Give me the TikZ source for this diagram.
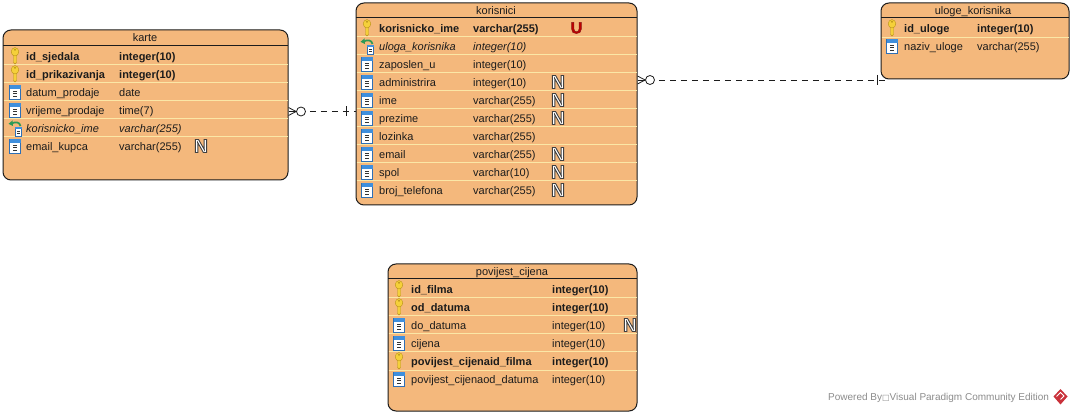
\documentclass[tikz,border=0pt]{standalone}
\usepackage{fontspec}
\setmainfont{Liberation Sans}
\newfontfamily\symfont{DejaVu Sans}
\definecolor{tblfill}{HTML}{F4B87C}
\definecolor{sepcol}{HTML}{FBE7A6}
\definecolor{inkcol}{HTML}{1C1C1C}
\definecolor{keyfill}{HTML}{F5D03A}
\definecolor{keyedge}{HTML}{B8921A}
\definecolor{colblue}{HTML}{3F8FDD}
\definecolor{coledge}{HTML}{2F6FB5}
\definecolor{fkgreen}{HTML}{2E9A55}
\definecolor{logored}{HTML}{C9313A}
\newcommand{\outlined}[3]{\special{pdf:code 2 Tr #2 w #3 RG}#1\special{pdf:code 0 Tr 0 w}}
\tikzset{
  x=1pt,y=-1pt,
  tbl/.style={draw=inkcol,line width=1pt,fill=tblfill,rounded corners=8pt,inner sep=0pt},
  hdr/.style={font=\fontsize{11}{12}\selectfont,text=inkcol,inner sep=0pt,text height=7.5pt,text depth=2pt,yshift=-1.3pt},
  cell/.style={anchor=west,font=\fontsize{11}{12}\selectfont,text=inkcol,inner sep=0pt,text height=7.5pt,text depth=2pt,yshift=-1.3pt},
  plainc/.style={},
  boldc/.style={font=\fontsize{11}{12}\selectfont\bfseries},
  italc/.style={font=\fontsize{11}{12}\selectfont\itshape},
  sepline/.style={draw=sepcol,line width=1pt},
  headline/.style={draw=inkcol,line width=1pt},
  rel/.style={draw=inkcol,line width=.8pt,dash pattern=on 6pt off 5pt},
  relsolid/.style={draw=inkcol,line width=.8pt},
  ringnode/.style={circle,draw=inkcol,line width=.8pt,minimum size=9pt,inner sep=0pt,fill=white},
  nbadge/.style={font=\fontsize{19}{19}\selectfont\bfseries,text=white,inner sep=0pt},
  ubadge/.style={font=\fontsize{16}{16}\selectfont\bfseries,text=red!75!black,inner sep=0pt},
  keyicon/.pic={
    \fill[keyfill,draw=keyedge,line width=.4pt] (-1.5,-1) -- (-1.5,6.5) -- (0,8) -- (1.5,6.5) -- (1.5,-1) -- cycle;
    \fill[keyfill,draw=keyedge,line width=.4pt] (0,-4.2) ellipse (3.8 and 4.2);
    \fill[keyedge] (0,-6.2) ellipse (1.2 and .9);
  },
  colicon/.pic={
    \fill[white,draw=coledge,line width=.6pt] (-5.5,-7) rectangle (5.5,7);
    \fill[colblue] (-5.5,-7) rectangle (5.5,-3);
    \foreach \yy in {-1,1.6,4.2} \draw[black!80,line width=.9pt] (-2,\yy) -- (2,\yy);
  },
  fkicon/.pic={
    \fill[white,draw=coledge,line width=.5pt] (0,-1) rectangle (6.5,8);
    \fill[colblue] (0,-1) rectangle (6.5,1.5);
    \foreach \yy in {3.3,5.6} \draw[black!80,line width=.7pt] (1.8,\yy) -- (4.7,\yy);
    \draw[fkgreen,line width=1.7pt] (5.5,-2) .. controls (5,-6) and (0,-6.5) .. (-3,-4.6);
    \fill[fkgreen] (-6.5,-4.2) -- (-2.5,-7.5) -- (-2,-2) -- cycle;
  }
}
\newcommand{\trow}[6]{%
  \pic at (\ix,#3) {#2};
  \node[cell,#4] (#1n) at (\nx,#3) {#5};
  \node[cell,#4] (#1t) at (\tx,#3) {#6};
}
\newcommand{\nmark}[3]{\node[nbadge] (#1) at (#2,#3) {\outlined{N}{.9}{.25 .25 .25}};}
\begin{document}
\begin{tikzpicture}
\useasboundingbox (0,0) rectangle (1072,414);
\fill[white] (0,0) rectangle (1072,414);

% karte
\node[tbl,minimum width=285pt,minimum height=150pt] (karte) at (145.5,105) {};
\node[hdr] (kartet) at (145,37.5) {karte};
\draw[headline] (3,45.5) -- (288,45.5);
\foreach \yy in {65,83,101,119,137} \draw[sepline] (3.5,\yy) -- (287.5,\yy);
\def\ix{15}\def\nx{26}\def\tx{119}
\trow{ka1}{keyicon}{56}{boldc}{id\_sjedala}{integer(10)}
\trow{ka2}{keyicon}{74}{boldc}{id\_prikazivanja}{integer(10)}
\trow{ka3}{colicon}{92}{plainc}{datum\_prodaje}{date}
\trow{ka4}{colicon}{110}{plainc}{vrijeme\_prodaje}{time(7)}
\trow{ka5}{fkicon}{128}{italc}{korisnicko\_ime}{varchar(255)}
\trow{ka6}{colicon}{146}{plainc}{email\_kupca}{varchar(255)}
\nmark{kaN}{201}{146}

% korisnici
\node[tbl,minimum width=281pt,minimum height=202pt] (kor) at (496.5,104) {};
\node[hdr] (kort) at (496,10.5) {korisnici};
\draw[headline] (356,18) -- (637,18);
\foreach \yy in {37,55,73,91,109,127,145,163,181} \draw[sepline] (356.5,\yy) -- (636.5,\yy);
\def\ix{367}\def\nx{379}\def\tx{473}
\trow{ko1}{keyicon}{28}{boldc}{korisnicko\_ime}{varchar(255)}
\trow{ko2}{fkicon}{46}{italc}{uloga\_korisnika}{integer(10)}
\trow{ko3}{colicon}{64}{plainc}{zaposlen\_u}{integer(10)}
\trow{ko4}{colicon}{82}{plainc}{administrira}{integer(10)}
\trow{ko5}{colicon}{100}{plainc}{ime}{varchar(255)}
\trow{ko6}{colicon}{118}{plainc}{prezime}{varchar(255)}
\trow{ko7}{colicon}{136}{plainc}{lozinka}{varchar(255)}
\trow{ko8}{colicon}{154}{plainc}{email}{varchar(255)}
\trow{ko9}{colicon}{172}{plainc}{spol}{varchar(10)}
\trow{ko10}{colicon}{190}{plainc}{broj\_telefona}{varchar(255)}
\node[ubadge] (koU) at (576.5,28) {\outlined{U}{.5}{.55 .1 .1}};
\nmark{koN1}{558}{82}
\nmark{koN2}{558}{100}
\nmark{koN3}{558}{118}
\nmark{koN4}{558}{154}
\nmark{koN5}{558}{172}
\nmark{koN6}{558}{190}

% uloge_korisnika
\node[tbl,minimum width=188pt,minimum height=76pt] (ulo) at (975,41) {};
\node[hdr] (ulot) at (973,10.5) {uloge\_korisnika};
\draw[headline] (881,18) -- (1069,18);
\draw[sepline] (881.5,37.5) -- (1068.5,37.5);
\def\ix{892}\def\nx{904}\def\tx{977}
\trow{ul1}{keyicon}{28}{boldc}{id\_uloge}{integer(10)}
\trow{ul2}{colicon}{46}{plainc}{naziv\_uloge}{varchar(255)}

% povijest_cijena
\node[tbl,minimum width=249pt,minimum height=147pt] (pov) at (512.5,337.5) {};
\node[hdr] (povt) at (512,271) {povijest\_cijena};
\draw[headline] (388,279) -- (637,279);
\foreach \yy in {298,316,334,352,370} \draw[sepline] (388.5,\yy) -- (636.5,\yy);
\def\ix{399}\def\nx{411}\def\tx{552}
\trow{po1}{keyicon}{289}{boldc}{id\_filma}{integer(10)}
\trow{po2}{keyicon}{307}{boldc}{od\_datuma}{integer(10)}
\trow{po3}{colicon}{325}{plainc}{do\_datuma}{integer(10)}
\trow{po4}{colicon}{343}{plainc}{cijena}{integer(10)}
\trow{po5}{keyicon}{361}{boldc}{povijest\_cijenaid\_filma}{integer(10)}
\trow{po6}{colicon}{379}{plainc}{povijest\_cijenaod\_datuma}{integer(10)}
\nmark{poN}{630}{325}

% relationships
\coordinate (c1a) at (288.5,111.5);
\coordinate (c1b) at (356,111.5);
\coordinate (c1t) at (346.5,111.5);
\node[ringnode] (r1) at (301,111.5) {};
\draw[rel] (r1.east) ++(4,0) -- (c1b);
\draw[relsolid] (c1a) ++(0,-4) -- (r1.west);
\draw[relsolid] (c1a) ++(0,4) -- (r1.west);
\draw[relsolid] (c1a) -- (r1.west);
\draw[relsolid] (c1t) ++(0,-5) -- ++(0,10);

\coordinate (c2a) at (637.5,80);
\coordinate (c2b) at (887,80);
\coordinate (c2t) at (877,80);
\node[ringnode] (r2) at (650,80) {};
\draw[rel] (r2.east) ++(4,0) -- (c2b);
\draw[relsolid] (c2a) ++(0,-4) -- (r2.west);
\draw[relsolid] (c2a) ++(0,4) -- (r2.west);
\draw[relsolid] (c2a) -- (r2.west);
\draw[relsolid] (c2t) ++(0,-5) -- ++(0,10);

% footer
\node[anchor=west,inner sep=0pt,text=black!45,font=\fontsize{10}{12}\selectfont] (powered) at (828,397.5) {Powered By{\symfont\fontsize{8}{8}\selectfont □}Visual Paradigm Community Edition};
\fill[logored] (1060.5,389) -- (1067.5,396.5) -- (1060.5,404.5) -- (1053.5,396.5) -- cycle;
\draw[white,line width=1pt] (1056.5,396.5) -- (1060.5,392.5) -- (1064,396) -- (1060.5,399.5);
\end{tikzpicture}
\end{document}
